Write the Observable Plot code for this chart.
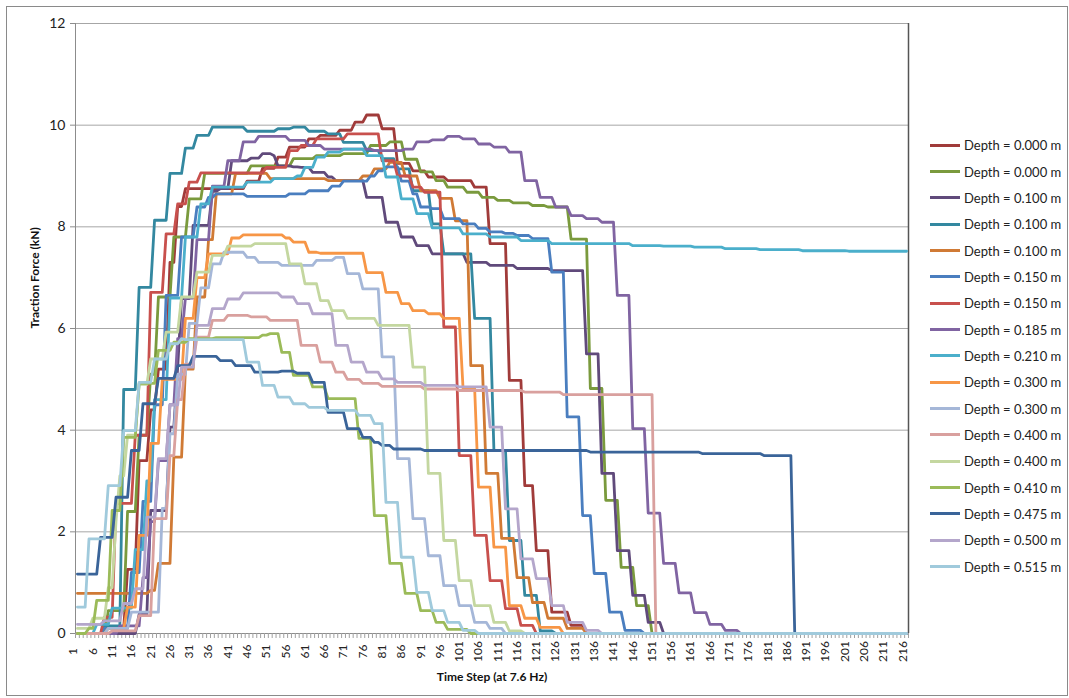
<!DOCTYPE html>
<html>
<head>
<meta charset="utf-8">
<script src="https://cdn.jsdelivr.net/npm/d3@7"></script>
<script src="https://cdn.jsdelivr.net/npm/@observablehq/plot@0.6"></script>
<style>
  body { margin: 0; background: #fff; }
  #chart { position: relative; width: 1069px; height: 698px; font-family: Lato, "Open Sans", sans-serif; color: #222; }
  #frame { position: absolute; left: 6px; top: 6px; width: 1062px; height: 690px; border: 1px solid #8a8a8a; box-sizing: border-box; pointer-events: none; }
  #legend { position: absolute; left: 930px; top: 132px; }
  .row { height: 26.35px; display: flex; align-items: center; font-size: 13px; white-space: nowrap; }
  .sw { display: inline-block; width: 30px; height: 3px; margin-right: 4px; }
  #plot { position: absolute; left: 0; top: 0; }
</style>
</head>
<body>
<div id="chart"><div id="plot"></div><div id="frame"></div><div id="legend"></div></div>
<script>
// ---- labels & colours ----
const seriesLabels = [
  "Depth = 0.000 m", "Depth = 0.000 m", "Depth = 0.100 m", "Depth = 0.100 m", "Depth = 0.100 m",
  "Depth = 0.150 m", "Depth = 0.150 m", "Depth = 0.185 m", "Depth = 0.210 m", "Depth = 0.300 m",
  "Depth = 0.300 m", "Depth = 0.400 m", "Depth = 0.400 m", "Depth = 0.410 m", "Depth = 0.475 m",
  "Depth = 0.500 m", "Depth = 0.515 m"
];
const seriesColors = [
  "#A03B3A", "#7A9A3D", "#604A7B", "#3388A0", "#D07A35",
  "#4A7EBF", "#C8504D", "#8064A2", "#4BAFCB", "#F79646",
  "#A5B7D8", "#D9A09E", "#C4D7A0", "#9BBB59", "#3A6499",
  "#B4A6CB", "#A0CADC"
];

// ---- categories & ticks ----
const categories = d3.range(1, 217);          // time steps 1..216
const xDomain = [0.5, 216.5];
const xTickLabels = [1, 6, 11, 16, 21, 26, 31, 36, 41, 46, 51, 56, 61, 66, 71, 76, 81, 86, 91, 96, 101, 106,
  111, 116, 121, 126, 131, 136, 141, 146, 151, 156, 161, 166, 171, 176, 181, 186, 191, 196, 201, 206, 211, 216];
const yTicks = [0, 2, 4, 6, 8, 10, 12];

// ---- series values: [time step from which value holds, traction force kN] ----
const d000a = [[1,0],[11,0.1],[14,1.26],[17,3.4],[20,4.4],[22,5.2],[25,7.3],[27,8.4],[29,8.75],[45,8.9],[49,9.15],[53,9.37],[56,9.57],[61,9.73],[64,9.8],[69,9.9],[73,10.06],[76,10.2],[80,9.93],[84,9.25],[88,9.1],[92,8.98],[97,8.91],[104,8.78],[108,7.67],[113,4.98],[117,2.91],[120,1.63],[124,0.42],[129,0.16],[133,0]];
const d000b = [[1,0],[9,0.45],[14,2.4],[17,3.9],[20,5.1],[22,6.62],[26,7.8],[30,8.55],[34,9.05],[46,9.2],[57,9.34],[63,9.4],[70,9.44],[77,9.6],[82,9.67],[86,9.33],[90,9.08],[94,8.91],[97,8.78],[102,8.68],[106,8.58],[110,8.52],[114,8.47],[119,8.42],[123,8.39],[129,7.76],[134,4.82],[138,2.62],[142,1.3],[146,0.55],[150,0]];
const d100a = [[1,0],[17,0.38],[20,2.42],[25,4.06],[27,5.24],[28,6.59],[31,8.03],[36,8.7],[38,8.75],[41,9.3],[46,9.35],[49,9.44],[52,9.4],[53,9.2],[57,9.18],[59,9.17],[62,9.07],[66,8.98],[68,8.91],[76,8.58],[81,8.09],[85,7.8],[89,7.63],[93,7.47],[102,7.3],[108,7.24],[115,7.18],[124,7.14],[133,5.5],[137,3.15],[141,1.63],[145,0.75],[149,0.22],[153,0]];
const d100b = [[1,0],[8,0.15],[13,4.8],[17,6.81],[21,8.13],[25,9.05],[29,9.55],[32,9.8],[36,9.96],[45,9.88],[53,9.93],[57,9.96],[61,9.88],[66,9.83],[70,9.66],[76,9.5],[80,9.34],[84,9.14],[88,8.71],[93,8.06],[96,7.47],[104,6.2],[109,3.6],[113,1.83],[117,0.75],[121,0.05],[125,0]];
const d100c = [[1,0.79],[20,0.85],[22,1.38],[26,3.47],[29,5.2],[32,6.62],[35,7.75],[37,8.65],[42,9.05],[51,8.95],[66,8.91],[75,9.0],[78,9.14],[82,9.27],[86,9.0],[90,8.71],[95,8.56],[99,8.12],[103,5.27],[107,3.15],[111,1.87],[115,1.1],[119,0.61],[123,0.3],[128,0.1],[133,0]];
const d150a = [[1,0],[8,0.1],[15,1.2],[18,2.6],[21,4.5],[24,6.65],[28,7.8],[32,8.39],[35,8.58],[37,8.65],[45,8.6],[56,8.65],[61,8.71],[67,8.8],[70,8.9],[77,9.0],[79,9.1],[81,9.18],[85,8.9],[88,8.65],[90,8.39],[93,8.36],[96,8.16],[101,8.06],[105,7.97],[108,7.9],[112,7.87],[115,7.83],[119,7.77],[124,7.11],[128,4.26],[132,2.32],[135,1.18],[139,0.42],[143,0.06],[148,0]];
const d150b = [[1,0],[8,0.32],[11,2.56],[16,3.9],[20,6.71],[24,7.86],[27,8.45],[30,8.88],[33,9.06],[50,9.17],[56,9.5],[59,9.6],[63,9.73],[71,9.83],[80,9.3],[84,9.0],[88,8.78],[91,8.68],[96,6.03],[100,3.5],[104,1.93],[108,1.04],[112,0.49],[116,0.16],[120,0]];
const d185 = [[1,0],[12,0.15],[18,1.1],[20,2.2],[22,3.4],[25,4.5],[27,5.8],[29,6.6],[32,7.75],[36,8.8],[40,9.3],[44,9.67],[48,9.78],[56,9.7],[61,9.6],[65,9.53],[78,9.5],[86,9.53],[89,9.67],[93,9.71],[97,9.78],[101,9.73],[105,9.63],[109,9.57],[113,9.47],[117,8.91],[121,8.58],[125,8.39],[129,8.22],[133,8.16],[137,8.09],[141,6.65],[145,4.03],[149,2.37],[153,1.38],[157,0.8],[161,0.41],[165,0.18],[169,0.06],[173,0]];
const d210 = [[1,0],[6,0.18],[10,0.5],[16,1.65],[19,3.0],[21,4.6],[25,6.6],[29,7.8],[33,8.45],[36,8.78],[45,8.88],[52,8.95],[58,9.0],[60,9.17],[63,9.37],[66,9.47],[70,9.53],[76,9.4],[81,8.98],[85,8.55],[89,8.26],[93,7.98],[101,7.86],[108,7.8],[116,7.73],[124,7.67],[145,7.63],[153,7.62],[161,7.6],[169,7.57],[178,7.55],[189,7.53],[201,7.52]];
const d300a = [[1,0],[9,0.1],[14,0.52],[17,1.93],[20,3.74],[23,5.0],[29,6.2],[32,7.0],[35,7.47],[41,7.78],[44,7.84],[55,7.78],[57,7.7],[61,7.5],[64,7.48],[76,7.1],[81,6.71],[85,6.49],[88,6.35],[92,6.29],[96,6.2],[101,4.82],[105,2.88],[109,1.7],[113,0.55],[117,0.3],[121,0.12],[127,0]];
const d300b = [[1,0],[9,0.1],[15,0.42],[23,2.46],[25,3.93],[27,5.1],[30,6.1],[33,6.8],[36,7.27],[39,7.5],[45,7.4],[48,7.3],[54,7.24],[63,7.34],[68,7.4],[71,7.08],[75,6.78],[80,5.44],[84,3.44],[88,2.26],[92,1.53],[96,0.94],[100,0.55],[104,0.22],[108,0.1],[112,0]];
const d400a = [[1,0],[10,0.05],[17,0.35],[21,2.26],[25,3.5],[27,4.6],[29,5.3],[32,5.83],[36,6.16],[40,6.26],[46,6.23],[51,6.16],[59,5.67],[64,5.34],[68,5.14],[71,5.0],[75,4.92],[80,4.86],[91,4.81],[100,4.78],[117,4.75],[127,4.7],[151,0]];
const d400b = [[1,0.1],[5,0.3],[9,0.9],[11,2.2],[12,3.1],[14,3.9],[17,4.9],[20,5.4],[24,5.93],[28,6.62],[32,7.11],[36,7.44],[40,7.62],[47,7.67],[56,7.27],[60,6.88],[64,6.55],[67,6.35],[71,6.2],[79,6.06],[88,5.24],[92,3.15],[96,1.83],[100,1.04],[104,0.55],[109,0.22],[113,0.05],[117,0]];
const d410 = [[1,0],[4,0.1],[6,0.65],[10,2.42],[13,3.86],[17,4.92],[22,5.57],[26,5.73],[30,5.8],[37,5.82],[49,5.87],[51,5.9],[54,5.53],[57,5.08],[62,4.85],[66,4.62],[74,3.84],[78,2.32],[82,1.38],[86,0.79],[90,0.45],[94,0.22],[97,0.08],[103,0]];
const d475 = [[1,1.17],[7,1.89],[11,2.68],[15,3.6],[18,4.52],[22,5.02],[27,5.27],[31,5.45],[38,5.37],[42,5.27],[47,5.14],[54,5.16],[58,5.12],[62,4.94],[66,4.35],[71,4.03],[75,3.86],[78,3.76],[80,3.7],[83,3.63],[91,3.6],[134,3.57],[163,3.54],[179,3.5],[187,0]];
const d500 = [[1,0.18],[8,0.25],[13,0.59],[16,0.88],[19,2.29],[22,3.44],[25,4.5],[28,5.24],[32,6.06],[36,6.39],[40,6.58],[44,6.7],[54,6.62],[58,6.49],[62,6.29],[68,5.67],[72,5.34],[76,5.14],[80,5.01],[84,4.94],[91,4.88],[100,4.85],[108,4.06],[112,2.45],[116,1.47],[120,1.08],[124,0.55],[128,0.22],[133,0.06],[137,0]];
const d515 = [[1,0.52],[4,1.86],[9,2.91],[13,3.99],[17,4.94],[21,5.4],[25,5.7],[28,5.8],[29,5.78],[45,5.34],[49,4.88],[53,4.65],[57,4.52],[61,4.45],[66,4.39],[74,4.29],[78,4.13],[81,2.58],[85,1.5],[89,0.81],[93,0.45],[97,0.22],[101,0.06],[105,0]];

const seriesSteps = [d000a, d000b, d100a, d100b, d100c, d150a, d150b, d185, d210, d300a, d300b, d400a, d400b, d410, d475, d500, d515];

// table for the library: every time step with the value held at that step
const rows = [];
seriesSteps.forEach((pts, i) => {
  let j = 0;
  for (const step of categories) {
    while (j + 1 < pts.length && pts[j + 1][0] <= step) j++;
    rows.push({id: i, step, value: pts[j][1]});
  }
});
const ids = seriesSteps.map((_, i) => i);
const xBoundaries = d3.range(xDomain[0], xDomain[1] + 0.01, 1);

const chart = Plot.plot({
  width: 1069,
  height: 698,
  marginLeft: 75,
  marginRight: 161,
  marginTop: 23,
  marginBottom: 65,
  style: {fontFamily: "Lato, 'Open Sans', sans-serif", color: "#222", background: "transparent", overflow: "visible"},
  x: {domain: xDomain, label: null},
  y: {domain: [0, 12], label: null},
  color: {type: "ordinal", domain: ids, range: seriesColors},
  marks: [
    Plot.gridY(yTicks, {stroke: "#a6a6a6", strokeOpacity: 1}),
    Plot.ruleX([xDomain[0]], {stroke: "#8c8c8c"}),
    Plot.ruleY([0], {stroke: "#8c8c8c"}),
    Plot.ruleX([xDomain[1]], {stroke: "#555", strokeWidth: 1.5}),
    Plot.axisY(yTicks, {tickSize: 5, tickPadding: 5, fontSize: 14, stroke: "#8c8c8c", tickFormat: d3.format("d"), label: null}),
    Plot.axisX(xBoundaries, {tickSize: 5, tickFormat: () => "", stroke: "#a0a0a0", label: null}),
    Plot.text(xTickLabels, {x: d => d, frameAnchor: "bottom", rotate: -90, textAnchor: "middle", dy: 18, fontSize: 12, fill: "#222"}),
    Plot.text(["Time Step (at 7.6 Hz)"], {frameAnchor: "bottom", dy: 47, fontWeight: "bold", fontSize: 12, fill: "#111"}),
    Plot.text(["Traction Force (kN)"], {frameAnchor: "left", dx: -40, rotate: -90, fontWeight: "bold", fontSize: 12, fill: "#111"}),
    Plot.line(rows, {x: "step", y: "value", z: "id", stroke: "id", strokeWidth: 2.8, curve: "linear"})
  ]
});
document.getElementById("plot").appendChild(chart);

const legend = document.getElementById("legend");
seriesLabels.forEach((lab, i) => {
  const row = document.createElement("div");
  row.className = "row";
  const sw = document.createElement("span");
  sw.className = "sw";
  sw.style.background = seriesColors[i];
  const t = document.createElement("span");
  t.textContent = lab;
  row.appendChild(sw);
  row.appendChild(t);
  legend.appendChild(row);
});
</script>
</body>
</html>
